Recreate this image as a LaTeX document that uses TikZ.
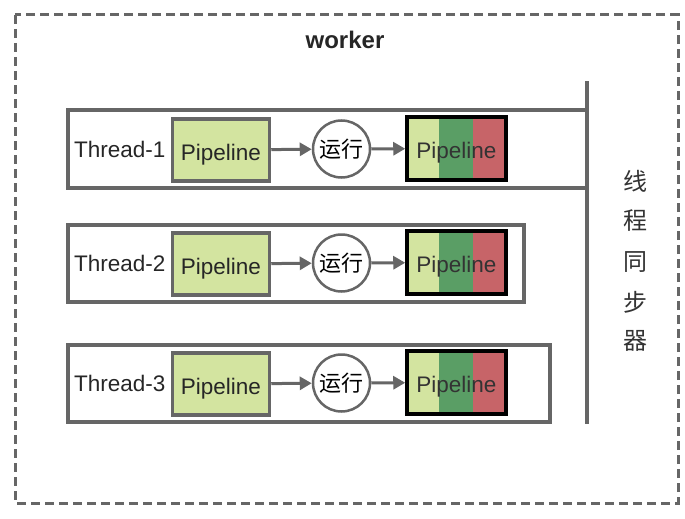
\documentclass[tikz,border=0pt]{standalone}
\usepackage{fontspec}
\setmainfont{Liberation Sans}
\newfontfamily\cjk{Noto Sans CJK SC}
\usetikzlibrary{arrows.meta}
\definecolor{lgreen}{HTML}{D3E4A0}
\definecolor{dgreen}{HTML}{5A9E65}
\definecolor{lred}{HTML}{C76468}
\definecolor{frame}{HTML}{666666}
\tikzset{
  threadbox/.style={draw=frame, line width=3.5pt},
  pipebox/.style={draw=frame, line width=3.5pt, fill=lgreen, minimum width=97pt, minimum height=62pt, inner sep=0pt, text height=22pt, text depth=2pt, font=\fontsize{22.5}{24}\selectfont, text=black!85},
  runnode/.style={draw=frame, line width=2.5pt, circle, minimum size=57pt, inner sep=0pt, font=\cjk\fontsize{22}{24}\selectfont},
  conn/.style={draw=frame, line width=3pt, -{Triangle[length=12pt,width=13pt]}},
  lbl/.style={font=\fontsize{22.5}{24}\selectfont, text=black!85, inner sep=0pt},
  sync/.style={font=\cjk\fontsize{24}{26}\selectfont, text=black!80, inner sep=0pt}
}
\begin{document}
\begin{tikzpicture}[x=1pt,y=-1pt]
\useasboundingbox (0,0) rectangle (685,519);
\draw[draw=frame, line width=3pt, dash pattern=on 9pt off 5pt] (15,15) rectangle (678,503);
\node[font=\bfseries\fontsize{24}{26}\selectfont, text=black!85] (worker) at (345,40) {worker};
% sync bar
\coordinate (bartop) at (587,81);
\coordinate (barbot) at (587,424);
\draw[draw=frame, line width=4.5pt] (bartop) -- (barbot);
% thread boxes
\draw[threadbox] (587,110) -- (68,110) -- (68,188) -- (587,188);
\draw[threadbox] (68,225) rectangle (524,302);
\draw[threadbox] (68,345) rectangle (550,422);
\foreach \i/\y in {1/149, 2/263, 3/383}{
  \node[lbl, anchor=west] (t\i) at (74,\y) {Thread-\i};
  \node[pipebox] (p\i) at (221,\y+1) {Pipeline};
  \node[runnode] (r\i) at (341.5,\y) {运行};
  \fill[lgreen] (407,\y-32) rectangle (439,\y+31);
  \fill[dgreen] (439,\y-32) rectangle (473,\y+31);
  \fill[lred] (473,\y-32) rectangle (506,\y+31);
  \node[draw=black, line width=3.5pt, minimum width=99pt, minimum height=63pt, inner sep=0pt, text height=22pt, text depth=2pt, font=\fontsize{22.5}{24}\selectfont, text=black!80] (q\i) at (456.5,\y-0.5) {Pipeline};
  \draw[conn] (p\i) -- (r\i);
  \draw[conn] (r\i) -- (q\i);
}
\foreach \c/\y/\n in {线/181/s1, 程/221/s2, 同/262/s3, 步/302/s4, 器/341/s5}{
  \node[sync] (\n) at (635,\y) {\c};
}
\end{tikzpicture}
\end{document}
